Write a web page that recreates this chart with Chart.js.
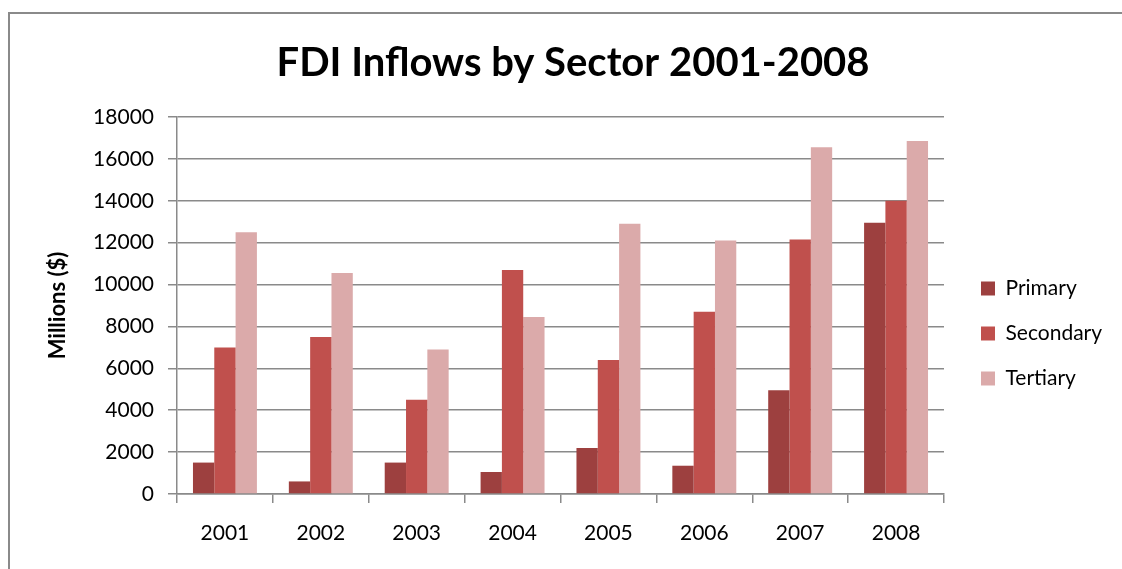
<!DOCTYPE html>
<html>
<head>
<meta charset="utf-8">
<script src="https://cdn.jsdelivr.net/npm/chart.js@4"></script>
<style>
  html, body { margin: 0; padding: 0; background: #ffffff; overflow: hidden; }
  #wrap { position: relative; width: 1122px; height: 569px; overflow: hidden; }
  #frame { position: absolute; left: 8px; top: 12px; width: 1300px; height: 800px; border: 2px solid #8a8a8a; box-sizing: border-box; }
  #c { position: absolute; left: 0; top: 0; }
</style>
</head>
<body>
<div id="wrap">
  <div id="frame"></div>
  <canvas id="c" width="1122" height="569"></canvas>
</div>
<script>
const titleText = 'FDI Inflows by Sector 2001-2008';
const yAxisTitle = 'Millions ($)';
const categories = ['2001', '2002', '2003', '2004', '2005', '2006', '2007', '2008'];
const seriesNames = ['Primary', 'Secondary', 'Tertiary'];
const primary = [1500, 600, 1500, 1050, 2200, 1350, 4950, 12950];
const secondary = [7000, 7500, 4500, 10700, 6400, 8700, 12150, 14000];
const tertiary = [12500, 10550, 6900, 8450, 12900, 12100, 16550, 16850];
const yMin = 0, yMax = 18000, yStep = 2000;

const colors = ['#9d403f', '#c0504d', '#dbaaaa'];
const gridColor = '#8a8a8a';
const FONT = 'Lato, "Open Sans", sans-serif';

const placer = {
  id: 'placer',
  afterLayout(chart) {
    const ca = chart.chartArea;
    const lg = chart.legend;
    if (lg) {
      const pad = lg.options.labels.padding;
      const dx = (ca.right + 37) - (lg.left + pad);
      const midItem = lg.top + pad + (lg.height - 2 * pad) / 2;
      const dy = ((ca.top + ca.bottom) / 2 + 28) - midItem;
      lg.left += dx; lg.right += dx;
      lg.top += dy; lg.bottom += dy;
    }
    const tb = chart.titleBlock;
    if (tb) {
      const tdx = (chart.width / 2 + 12) - (tb.left + tb.right) / 2;
      tb.left += tdx; tb.right += tdx;
    }
  }
};

const datasets = [primary, secondary, tertiary].map((d, i) => ({
  label: seriesNames[i],
  data: d,
  backgroundColor: colors[i],
  borderWidth: 0,
  categoryPercentage: 0.667,
  barPercentage: 1.0
}));

new Chart(document.getElementById('c'), {
  type: 'bar',
  data: { labels: categories, datasets },
  plugins: [placer],
  options: {
    responsive: false,
    animation: false,
    layout: { padding: { left: 0, right: 178, top: 0, bottom: 0 } },
    plugins: {
      title: {
        display: true,
        text: titleText,
        color: '#000',
        font: { family: FONT, size: 40, weight: 'bold' },
        padding: { top: 39, bottom: 30 }
      },
      legend: {
        position: 'chartArea',
        align: 'center',
        labels: {
          color: '#000',
          font: { family: FONT, size: 21 },
          boxWidth: 14,
          boxHeight: 14,
          padding: 24
        }
      },
      tooltip: { enabled: false }
    },
    scales: {
      x: {
        afterFit(scale) { scale.height = 75; },
        grid: { display: true, drawOnChartArea: false, drawTicks: true, tickLength: 9, color: gridColor, lineWidth: 1.5, offset: true },
        border: { display: true, color: gridColor, width: 1.5 },
        ticks: { color: '#000', font: { family: FONT, size: 21 }, padding: 18, maxRotation: 0 }
      },
      y: {
        min: yMin, max: yMax,
        afterFit(scale) { scale.width = 177; },
        grid: { color: gridColor, lineWidth: 1.5, tickLength: 9 },
        border: { display: true, color: gridColor, width: 1.5 },
        ticks: { stepSize: yStep, color: '#000', font: { family: FONT, size: 21 }, padding: 14, callback: v => String(v) },
        title: { display: true, text: yAxisTitle, color: '#000', font: { family: FONT, size: 22, weight: 'bold' }, padding: { top: 45, bottom: 0 } }
      }
    }
  }
});
</script>
</body>
</html>
